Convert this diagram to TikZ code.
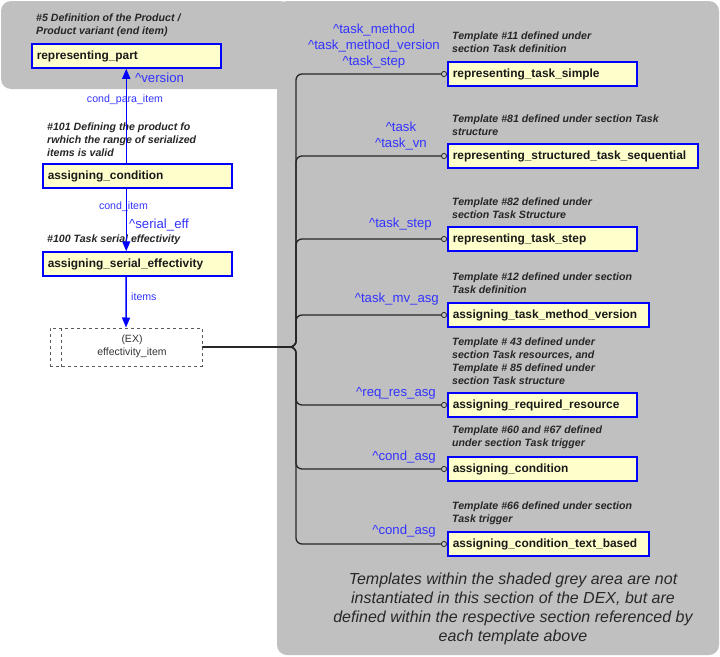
\documentclass[tikz,border=0pt]{standalone}
\usepackage{fontspec}
\setmainfont{Liberation Sans}
\usetikzlibrary{arrows.meta}
\definecolor{areagrey}{RGB}{192,192,192}
\definecolor{boxfill}{RGB}{255,255,204}
\definecolor{linkblue}{RGB}{0,0,255}
\definecolor{rolecol}{RGB}{51,51,255}
\definecolor{notecol}{RGB}{40,40,40}
\tikzset{
  tbox/.style={draw=linkblue, fill=boxfill, line width=1.5pt, anchor=west,
    minimum height=24pt, inner xsep=5pt, inner ysep=0pt, text width=179pt,
    align=left, font=\fontsize{11.9}{14}\selectfont\bfseries, text=black!90},
  tmpl/.style={anchor=west, inner sep=0pt, align=left, text=black!85,
    font=\fontsize{10.6}{13}\selectfont\bfseries\itshape},
  role/.style={inner sep=0pt, align=center, text=rolecol,
    font=\fontsize{13.2}{16}\selectfont},
  rolesmall/.style={inner sep=0pt, text=rolecol,
    font=\fontsize{10.6}{13}\selectfont},
  link/.style={draw=linkblue, line width=1.5pt, -{Triangle[length=10pt,width=8pt]}},
  bus/.style={draw=black!85, line width=1.3pt, rounded corners=6pt,
    -{Circle[open,length=6pt,width=6pt,line width=0.8pt]}},
  exbox/.style={draw=black!65, dashed, line width=1pt,
    minimum width=152pt, minimum height=38pt},
  note/.style={inner sep=0pt, align=center, text=notecol,
    font=\fontsize{16}{19}\selectfont\itshape}
}
\begin{document}
\begin{tikzpicture}[x=1pt,y=-1pt]
\useasboundingbox (0,0) rectangle (720,656);
\fill[areagrey, rounded corners=10pt] (1,1) rectangle (290,89);
\fill[areagrey, rounded corners=10pt] (277,1) rectangle (719,655);

\node[tmpl] (t5) at (36,25.5) {\#5 Definition of the Product /\\Product variant (end item)};
\node[tbox] (rpart) at (31,56) {representing\_part};
\node[tmpl] (t101) at (47,139.5) {\#101 Defining the product fo\\rwhich the range of serialized\\items is valid};
\node[tbox] (acond) at (42,176) {assigning\_condition};
\node[tmpl] (t100) at (47,240) {\#100 Task serial effectivity};
\node[tbox] (serial) at (42,264) {assigning\_serial\_effectivity};
\node[exbox] (ex) at (126,347) {};
\node[inner sep=0pt, align=center, text=black!80, font=\fontsize{10.5}{13}\selectfont]
  (exname) at (132,346.5) {(EX)\\effectivity\_item};
\draw[black!65, dashed, line width=1pt] ([xshift=12pt]ex.north west) -- ([xshift=12pt]ex.south west);

\node[role, anchor=west] (version) at (135,78) {\textasciicircum version};
\node[rolesmall] (condpara) at (125,100) {cond\_para\_item};
\node[rolesmall] (conditem) at (123.5,207) {cond\_item};
\node[role, anchor=west] (serialeff) at (129,225) {\textasciicircum serial\_eff};
\node[rolesmall, anchor=west] (items) at (131,297) {items};

\draw[link] (acond.north -| rpart.south) -- (rpart.south);
\draw[link] (rpart.south |- acond.south) -- (rpart.south |- serial.north);
\draw[link] (rpart.south |- serial.south) -- (ex.north);

\node[tmpl] (t11) at (452,42.5) {Template \#11 defined under\\section Task definition};
\node[tbox] (tsimple) at (447,74) {representing\_task\_simple};
\node[tmpl] (t81) at (452,125.5) {Template \#81 defined under section Task\\structure};
\node[tbox, text width=240pt] (tseq) at (447,156) {representing\_structured\_task\_sequential};
\node[tmpl] (t82) at (452,208) {Template \#82 defined under\\section Task Structure};
\node[tbox] (tstep) at (447,239) {representing\_task\_step};
\node[tmpl] (t12) at (452,283.5) {Template \#12 defined under section\\Task definition};
\node[tbox, text width=191pt] (tmv) at (447,315) {assigning\_task\_method\_version};
\node[tmpl] (t43) at (452,361.5) {Template \# 43 defined under\\section Task resources, and\\Template \# 85 defined under\\section Task structure};
\node[tbox] (tres) at (447,405) {assigning\_required\_resource};
\node[tmpl] (t60) at (452,437.5) {Template \#60 and \#67 defined\\under section Task trigger};
\node[tbox] (tcond) at (447,469) {assigning\_condition};
\node[tmpl] (t66) at (452,513.5) {Template \#66 defined under section\\Task trigger};
\node[tbox, text width=191pt] (ttext) at (447,544) {assigning\_condition\_text\_based};

\node[role, anchor=east] (rsimple) at (440,46) {\textasciicircum task\_method\\\textasciicircum task\_method\_version\\\textasciicircum task\_step};
\node[role, anchor=east] (rseq) at (427,136.5) {\textasciicircum task\\\textasciicircum task\_vn};
\node[role, anchor=east] (rstep) at (432,224) {\textasciicircum task\_step};
\node[role, anchor=east] (rmv) at (439,299) {\textasciicircum task\_mv\_asg};
\node[role, anchor=east] (rres) at (436,393) {\textasciicircum req\_res\_asg};
\node[role, anchor=east] (rcond) at (436,457) {\textasciicircum cond\_asg};
\node[role, anchor=east] (rtext) at (436,531) {\textasciicircum cond\_asg};

\coordinate (hub) at (296,347);
\draw[bus] (ex.east) -- (hub) |- (tsimple.west);
\draw[bus] (ex.east) -- (hub) |- (tseq.west);
\draw[bus] (ex.east) -- (hub) |- (tstep.west);
\draw[bus] (ex.east) -- (hub) |- (tmv.west);
\draw[bus] (ex.east) -- (hub) |- (tres.west);
\draw[bus] (ex.east) -- (hub) |- (tcond.west);
\draw[bus] (ex.east) -- (hub) |- (ttext.west);

\node[note] (remark) at (513,608.5) {Templates within the shaded grey area are not\\instantiated in this section of the DEX, but are\\defined within the respective section referenced by\\each template above};
\end{tikzpicture}
\end{document}
